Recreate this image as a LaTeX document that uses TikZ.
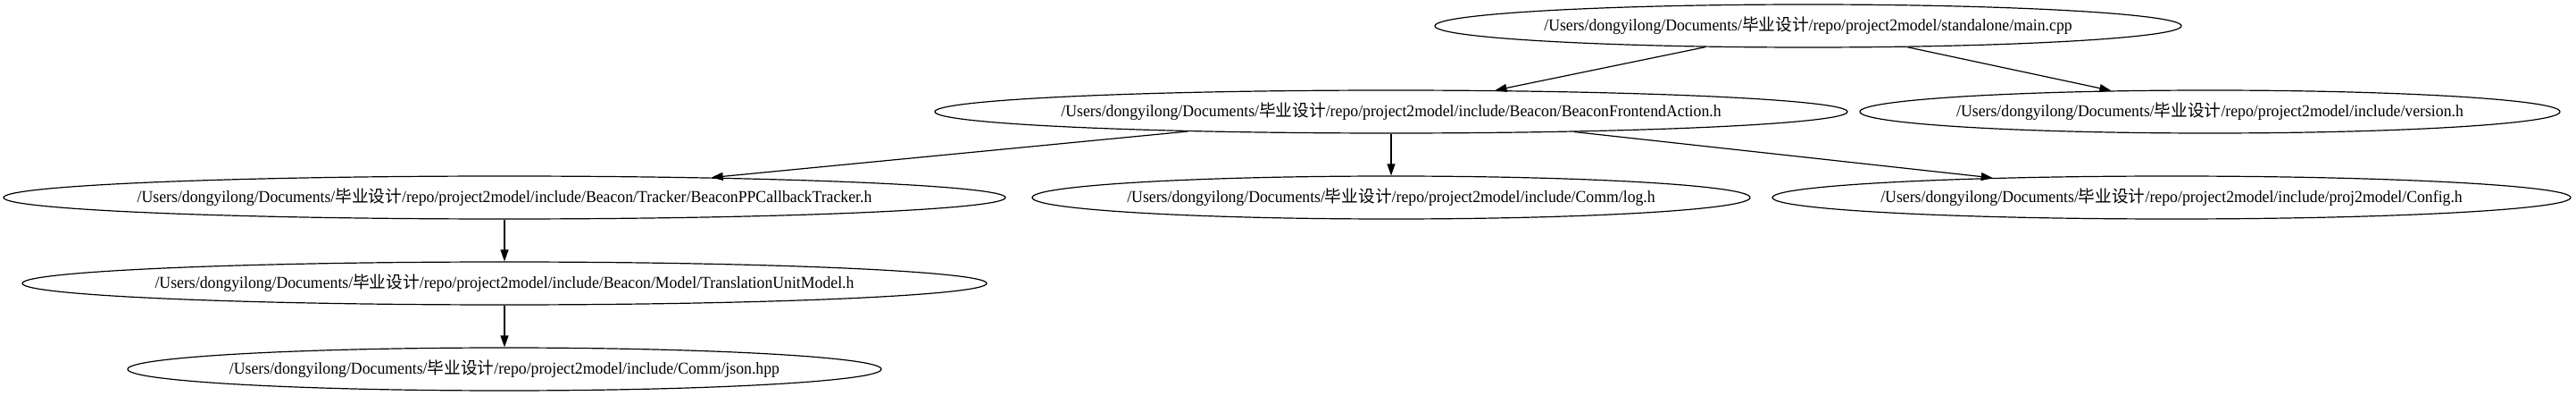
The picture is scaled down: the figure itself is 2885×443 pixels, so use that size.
\documentclass[tikz,border=0pt]{standalone}
\usepackage{fontspec}
\setmainfont[FakeStretch=0.95]{Liberation Serif}
\newfontfamily\cjk{Noto Sans CJK SC}
\usetikzlibrary{shapes.geometric,arrows.meta}

% common part of every file path
\newcommand{\repodir}{/Users/dongyilong/Documents/{\cjk 毕业设计}/repo/project2model/}

\tikzset{
    file/.style={draw,ellipse,line width=1.2pt,inner sep=0pt,minimum height=48pt,
        font=\fontsize{18.67}{22}\selectfont},
    dep/.style={-{Triangle[length=13pt,width=9pt]},line width=1.2pt}
}

\begin{document}
\begin{tikzpicture}[x=1pt,y=-1pt]
    % Canvas
    \useasboundingbox[fill=white] (0,0) rectangle (2885,443);

    % Top level
    \node[file,minimum width=836pt] (main) at (2025,29) {\makebox[0pt]{\repodir standalone/main.cpp}};

    % Second row
    \node[file,minimum width=1022pt] (action) at (1558,125) {\makebox[0pt]{\repodir include/Beacon/BeaconFrontendAction.h}};
    \node[file,minimum width=784pt] (version) at (2475,125) {\makebox[0pt]{\repodir include/version.h}};

    % Third row
    \node[file,minimum width=1122pt] (tracker) at (565,221) {\makebox[0pt]{\repodir include/Beacon/Tracker/BeaconPPCallbackTracker.h}};
    \node[file,minimum width=804pt] (log) at (1558,221) {\makebox[0pt]{\repodir include/Comm/log.h}};
    \node[file,minimum width=894pt] (config) at (2432,221) {\makebox[0pt]{\repodir include/proj2model/Config.h}};

    % Fourth and fifth row
    \node[file,minimum width=1080pt] (model) at (565,317) {\makebox[0pt]{\repodir include/Beacon/Model/TranslationUnitModel.h}};
    \node[file,minimum width=844pt] (json) at (565,413) {\makebox[0pt]{\repodir include/Comm/json.hpp}};

    % Includes
    \draw[dep] (main) -- (action);
    \draw[dep] (main) -- (version);
    \draw[dep] (action) -- (tracker);
    \draw[dep] (action) -- (log);
    \draw[dep] (action) -- (config);
    \draw[dep] (tracker) -- (model);
    \draw[dep] (model) -- (json);
\end{tikzpicture}
\end{document}
